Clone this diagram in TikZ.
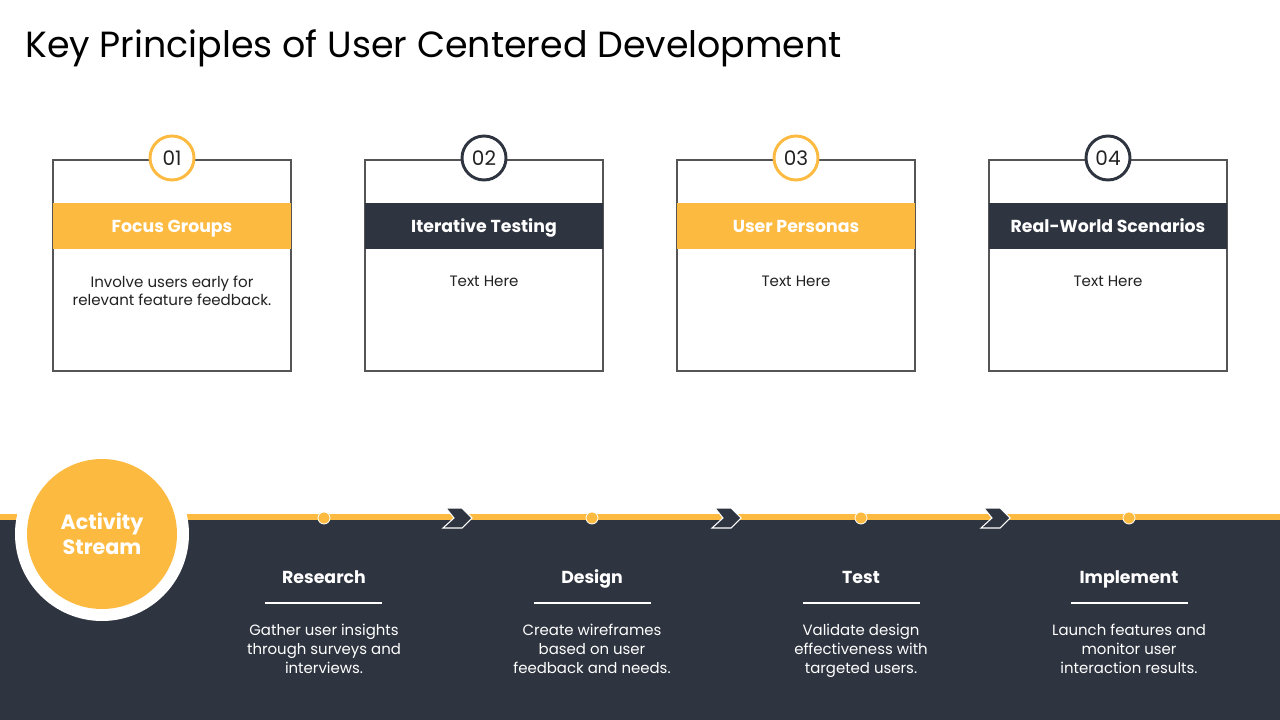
\documentclass[tikz,border=0pt]{standalone}
\usepackage{fontspec}
\setmainfont{Poppins}
\usetikzlibrary{positioning}

\definecolor{slideyellow}{RGB}{253,186,65}
\definecolor{slidedark}{RGB}{46,52,64}
\definecolor{boxgray}{RGB}{85,85,85}
\definecolor{textdark}{RGB}{34,34,34}

\tikzset{
  card/.style={draw=boxgray, line width=0.9pt, fill=white},
  band/.style={minimum width=238*0.75pt, minimum height=46*0.75pt, inner sep=0pt, font=\fontsize{13}{15}\selectfont\bfseries, text=white},
  bandtext/.style={text height=1.45ex, text depth=0.35ex, inner sep=0pt, font=\fontsize{13}{15}\selectfont\bfseries, text=white},
  numring/.style={circle, fill=white, line width=2.2pt, minimum size=44*0.75pt, inner sep=0pt, font=\fontsize{15}{17}\selectfont, text=textdark},
  cardtext/.style={align=center, font=\fontsize{11.3}{14}\selectfont, text=textdark, anchor=north},
  stephead/.style={text height=1.45ex, text depth=0.35ex, font=\fontsize{13}{15}\selectfont\bfseries, text=white},
  steptext/.style={align=center, font=\fontsize{11.2}{14.3}\selectfont, text=white, anchor=north},
  stepdot/.style={circle, fill=slideyellow, draw=white, line width=0.6pt, minimum size=12*0.75pt, inner sep=0pt},
  chev/.style={fill=slidedark, draw=white, line width=0.8pt, line join=miter}
}

\begin{document}
\begin{tikzpicture}[x=0.75pt,y=-0.75pt]
\useasboundingbox (0,0) rectangle (1280,720);
\fill[white] (0,0) rectangle (1280,720);

% title
\node[anchor=base west, inner sep=0pt, font=\fontsize{27.3}{30}\selectfont, text=black] (title) at (25,58) {Key Principles of User Centered Development};

% cards
\draw[card] (53,160) rectangle (291,371);
\node[band, fill=slideyellow] (band1) at (172,226) {};
\node[bandtext] (label1) at (172,228) {Focus Groups};
\node[numring, draw=slideyellow] (num1) at (172,158) {01};
\node[cardtext] (txt1) at (172,271) {Involve users early for\\relevant feature feedback.};

\draw[card] (365,160) rectangle (603,371);
\node[band, fill=slidedark] (band2) at (484,226) {};
\node[bandtext] (label2) at (484,228) {Iterative Testing};
\node[numring, draw=slidedark] (num2) at (484,158) {02};
\node[cardtext] (txt2) at (484,271) {Text Here};

\draw[card] (677,160) rectangle (915,371);
\node[band, fill=slideyellow] (band3) at (796,226) {};
\node[bandtext] (label3) at (796,228) {User Personas};
\node[numring, draw=slideyellow] (num3) at (796,158) {03};
\node[cardtext] (txt3) at (796,271) {Text Here};

\draw[card] (989,160) rectangle (1227,371);
\node[band, fill=slidedark] (band4) at (1108,226) {};
\node[bandtext] (label4) at (1108,228) {Real-World Scenarios};
\node[numring, draw=slidedark] (num4) at (1108,158) {04};
\node[cardtext] (txt4) at (1108,271) {Text Here};

% activity stream
\fill[slidedark] (0,519) rectangle (1280,720);
\fill[slideyellow] (0,514) rectangle (1280,520);

\node[stepdot] (dot1) at (324,518) {};
\node[stepdot] (dot2) at (592,518) {};
\node[stepdot] (dot3) at (861,518) {};
\node[stepdot] (dot4) at (1129,518) {};

\draw[chev] (446,508) -- (462,508) -- (472,518) -- (462,528) -- (443,528) -- (454,518) -- cycle;
\draw[chev] (715,508) -- (731,508) -- (741,518) -- (731,528) -- (712,528) -- (723,518) -- cycle;
\draw[chev] (984,508) -- (1000,508) -- (1010,518) -- (1000,528) -- (981,528) -- (992,518) -- cycle;

\fill[white] (102,534) circle (87);
\node[circle, fill=slideyellow, minimum size=150*0.75pt, inner sep=0pt, align=center, text=white, font=\fontsize{15.5}{19}\selectfont\bfseries] (stream) at (102,534) {Activity\\Stream};

\node[stephead] (head1) at (324,579) {Research};
\draw[white, line width=0.9pt] (265,603) -- (382,603);
\node[steptext] (desc1) at (324,619) {Gather user insights\\through surveys and\\interviews.};

\node[stephead] (head2) at (592,579) {Design};
\draw[white, line width=0.9pt] (534,603) -- (651,603);
\node[steptext] (desc2) at (592,619) {Create wireframes\\based on user\\feedback and needs.};

\node[stephead] (head3) at (861,579) {Test};
\draw[white, line width=0.9pt] (803,603) -- (920,603);
\node[steptext] (desc3) at (861,619) {Validate design\\effectiveness with\\targeted users.};

\node[stephead] (head4) at (1129,579) {Implement};
\draw[white, line width=0.9pt] (1071,603) -- (1188,603);
\node[steptext] (desc4) at (1129,619) {Launch features and\\monitor user\\interaction results.};
\end{tikzpicture}
\end{document}
